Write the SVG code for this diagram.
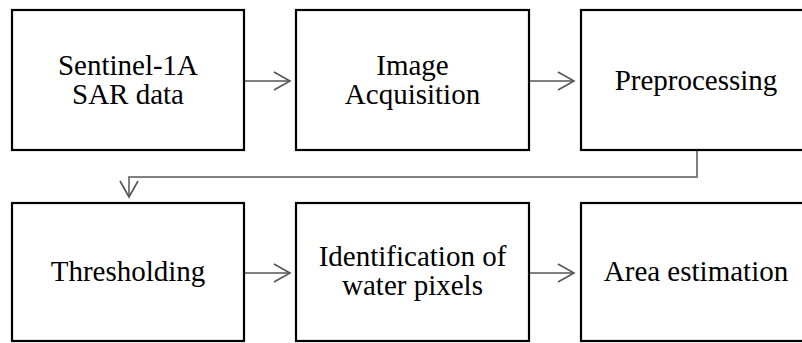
<svg xmlns="http://www.w3.org/2000/svg" width="802" height="343" viewBox="0 0 802 343">
<style>
.box{fill:#fff;stroke:#000;stroke-width:2.2}
.lbl{font-family:"Liberation Serif","Times New Roman",serif;font-size:29px;fill:#000;text-anchor:middle}
.con{fill:none;stroke:#808080;stroke-width:2}
</style>
<defs>
<marker id="ah" markerUnits="userSpaceOnUse" markerWidth="20" markerHeight="22" viewBox="0 0 20 22" refX="17" refY="10" orient="auto">
<path d="M1,1 L17,10 L1,19" fill="none" stroke="#555" stroke-width="1.6"/>
</marker>
</defs>
<rect width="802" height="343" fill="#fff"/>
<g id="connectors">
<path class="con" d="M245,81 L290,81" marker-end="url(#ah)"/>
<path class="con" d="M530,81 L574,81" marker-end="url(#ah)"/>
<path class="con" d="M697,151 L697,177 L129,177 L129,197" marker-end="url(#ah)"/>
<path class="con" d="M245,273 L290,273" marker-end="url(#ah)"/>
<path class="con" d="M530,273 L574,273" marker-end="url(#ah)"/>
</g>
<g id="n1"><rect class="box" x="12" y="10" width="232" height="140"/><text class="lbl" x="128" y="75">Sentinel-1A</text><text class="lbl" x="128" y="104">SAR data</text></g>
<g id="n2"><rect class="box" x="296" y="10" width="233" height="140"/><text class="lbl" x="412.5" y="75">Image</text><text class="lbl" x="412.5" y="104">Acquisition</text></g>
<g id="n3"><rect class="box" x="581" y="10" width="230" height="140"/><text class="lbl" x="696" y="90">Preprocessing</text></g>
<g id="n4"><rect class="box" x="12" y="203" width="232" height="138"/><text class="lbl" x="128" y="281">Thresholding</text></g>
<g id="n5"><rect class="box" x="296" y="203" width="233" height="138"/><text class="lbl" x="412.5" y="266">Identification of</text><text class="lbl" x="412.5" y="295">water pixels</text></g>
<g id="n6"><rect class="box" x="581" y="203" width="230" height="138"/><text class="lbl" x="696" y="281">Area estimation</text></g>
</svg>
